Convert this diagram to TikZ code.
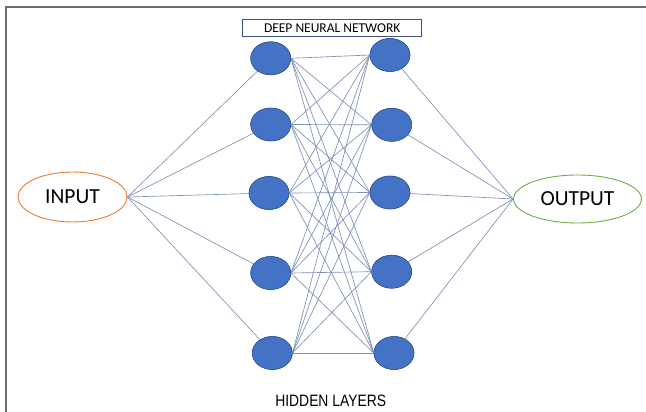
\documentclass[tikz,border=0pt]{standalone}
\usepackage{fontspec}
\setmainfont{Carlito}
\newfontfamily\narrowfont[FakeStretch=0.84]{Liberation Sans}
\usetikzlibrary{shapes.geometric}
\definecolor{nodeblue}{RGB}{68,114,196}
\definecolor{nodeedge}{RGB}{47,82,143}
\definecolor{linkcol}{RGB}{125,145,180}
\definecolor{inorange}{RGB}{237,125,49}
\definecolor{outgreen}{RGB}{112,173,71}
\definecolor{framegray}{RGB}{110,110,110}
\definecolor{titleedge}{RGB}{60,80,120}
\begin{document}
\begin{tikzpicture}[x=1pt,y=-1pt,
  neuron/.style={ellipse,fill=nodeblue,draw=nodeedge,line width=0.5pt,minimum width=40pt,minimum height=33pt,inner sep=0pt},
  ioell/.style={ellipse,line width=0.9pt,inner sep=0pt,font=\fontsize{21.5}{24}\selectfont},
  link/.style={draw=linkcol,line width=0.65pt},
  titlebox/.style={draw=titleedge,line width=0.9pt,minimum width=179pt,minimum height=17pt,inner sep=0pt,font=\fontsize{13.5}{15}\selectfont}
]
\useasboundingbox (0,0) rectangle (646,412);
\fill[white] (0,0) rectangle (646,412);
% frame
\coordinate (fA) at (6,412);
\coordinate (fB) at (6,7);
\coordinate (fC) at (646,7);
\draw[framegray,line width=1.4pt] (fA) -- (fB) -- (fC);
% title
\node[titlebox] (title) at (332.2,28.3) {DEEP NEURAL NETWORK};
% io
\node[ioell,draw=inorange,minimum width=109pt,minimum height=50pt] (in) at (72.5,197) {INPUT};
\node[ioell,draw=outgreen,minimum width=128pt,minimum height=48pt] (out) at (577.5,199) {OUTPUT};
% hidden layers
\node[neuron] (a1) at (270.7,58.3) {};
\node[neuron] (a2) at (270.7,124.5) {};
\node[neuron] (a3) at (269,193) {};
\node[neuron] (a4) at (270.7,273) {};
\node[neuron] (a5) at (272.3,353) {};
\node[neuron] (b1) at (390,55) {};
\node[neuron] (b2) at (391.7,124.8) {};
\node[neuron] (b3) at (390,192.5) {};
\node[neuron] (b4) at (391.7,271.7) {};
\node[neuron] (b5) at (394,353) {};
% links
\foreach \i in {1,...,5}{
  \draw[link] (in.east) -- (a\i);
  \draw[link] (b\i) -- (out.west);
  \foreach \j in {1,...,5}{
    \draw[link] (a\i.east) -- (b\j.west);
  }
}
% redraw neurons on top of the links
\foreach \n in {a1,a2,a3,a4,a5,b1,b2,b3,b4,b5}{
  \node[neuron] at (\n) {};
}
\node[font=\narrowfont\fontsize{16.5}{18}\selectfont] (hl) at (330.7,401) {HIDDEN LAYERS};
\end{tikzpicture}
\end{document}
